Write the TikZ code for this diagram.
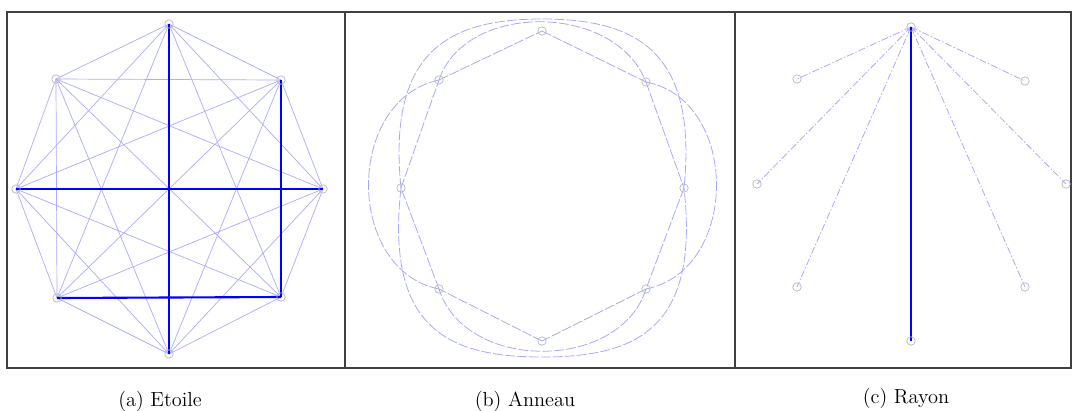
\documentclass[tikz,border=0pt]{standalone}
\usepackage{tikz}
\usetikzlibrary{backgrounds}

\begin{document}
\begin{tikzpicture}[x=0.025cm,y=-0.025cm,
  noeud/.style={circle,draw=gray!55,line width=0.5pt,inner sep=0pt,minimum size=6pt},
  lien/.style={blue!33,line width=0.5pt},
  fort/.style={blue,line width=1.5pt},
  anneau/.style={blue!35,line width=0.55pt,dash pattern=on 7pt off 1.5pt},
  rayon/.style={blue!35,line width=0.55pt,dash pattern=on 5pt off 1.5pt on 1pt off 1.5pt},
  cadre/.style={black!75,line width=1.1pt},
  legende/.style={font=\fontsize{14.5}{17}\selectfont}]
  \useasboundingbox (0,0) rectangle (1072,410);

  \draw[cadre] (7,12) rectangle (1071,368);
  \draw[cadre] (345,12) -- (345,368);
  \draw[cadre] (735,12) -- (735,368);

  % (a) etoile
  \foreach \n/\x/\y in {1/169/24,2/281/80,3/323/189,4/281/297,5/169/354,6/57/298,7/16/189,8/56/79}
    \node[noeud] (a\n) at (\x,\y) {};
  \begin{scope}[on background layer]
    \foreach \i in {1,...,7}{
      \pgfmathtruncatemacro{\k}{\i+1}
      \foreach \j in {\k,...,8}
        \draw[lien] (a\i.center) -- (a\j.center);
    }
    \draw[fort] (a1.center) -- (a5.center);
    \draw[fort] (a7.center) -- (a3.center);
    \draw[fort] (a2.center) -- (a4.center);
    \draw[fort] (a6.center) -- (a4.center);
  \end{scope}

  % (b) anneau
  \foreach \n/\x/\y in {1/542/31,2/646/82,3/684/188,4/646/289,5/542/341,6/439/289,7/401/188,8/439/80}
    \node[noeud] (b\n) at (\x,\y) {};
  \begin{scope}[on background layer]
    \foreach \i [evaluate=\i as \j using {int(mod(\i,8)+1)}] in {1,...,8}
      \draw[anneau] (b\i.center) -- (b\j.center);
    \draw[anneau] (b8.center) .. controls (465,2) and (615,2) .. (b2.center);
    \draw[anneau] (b2.center) .. controls (740,100) and (740,270) .. (b4.center);
    \draw[anneau] (b4.center) .. controls (620,372) and (465,372) .. (b6.center);
    \draw[anneau] (b6.center) .. controls (345,270) and (345,100) .. (b8.center);
    \draw[anneau] (b7.center) .. controls (387,50) and (450,19) .. (542,19)
      .. controls (635,19) and (698,50) .. (b3.center);
    \draw[anneau] (b7.center) .. controls (385,330) and (450,357) .. (542,357)
      .. controls (635,357) and (700,330) .. (b3.center);
  \end{scope}

  % (c) rayon
  \foreach \n/\x/\y in {1/911/27,2/1025/81,3/1066/184,4/1025/287,5/911/341,6/797/287,7/757/184,8/797/79}
    \node[noeud] (c\n) at (\x,\y) {};
  \begin{scope}[on background layer]
    \foreach \j in {2,3,4,6,7,8}
      \draw[rayon] (c1.center) -- (c\j.center);
    \draw[fort] (c1.center) -- (c5.center);
  \end{scope}

  \node[legende] (la) at (160,401) {(a) Etoile};
  \node[legende] (lb) at (525,401) {(b) Anneau};
  \node[legende] (lc) at (906,398) {(c) Rayon};
\end{tikzpicture}
\end{document}
